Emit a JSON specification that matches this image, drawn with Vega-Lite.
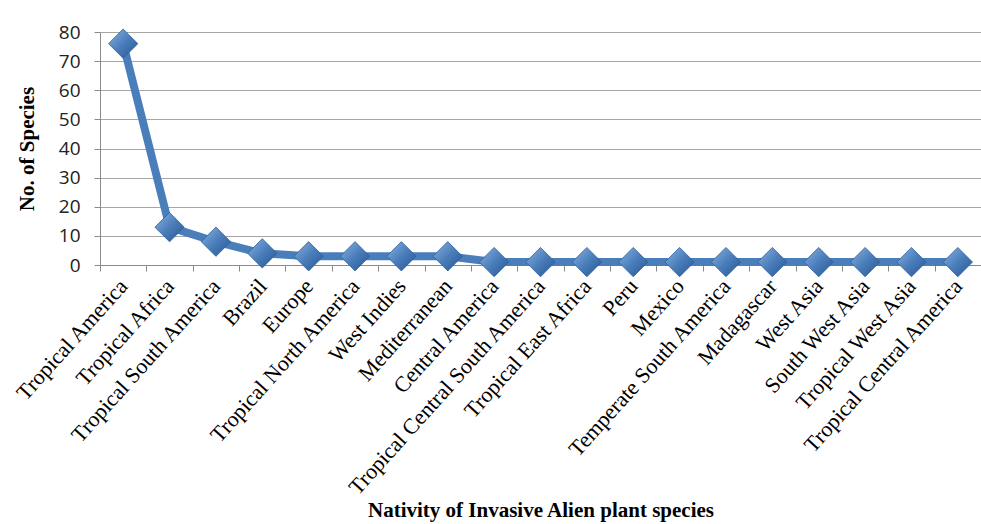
{
  "$schema": "https://vega.github.io/schema/vega-lite/v6.json",
  "width": 881,
  "height": 233,
  "autosize": {"type": "none"},
  "padding": {"left": 100, "top": 32, "right": 0, "bottom": 259},
  "background": "white",
  "config": {"view": {"stroke": null}},
  "data": {
    "values": [
      {"origin": "Tropical America", "species": 76},
      {"origin": "Tropical Africa", "species": 13},
      {"origin": "Tropical South America", "species": 8},
      {"origin": "Brazil", "species": 4},
      {"origin": "Europe", "species": 3},
      {"origin": "Tropical North America", "species": 3},
      {"origin": "West Indies", "species": 3},
      {"origin": "Mediterranean", "species": 3},
      {"origin": "Central America", "species": 1},
      {"origin": "Tropical Central South America", "species": 1},
      {"origin": "Tropical East Africa", "species": 1},
      {"origin": "Peru", "species": 1},
      {"origin": "Mexico", "species": 1},
      {"origin": "Temperate South America", "species": 1},
      {"origin": "Madagascar", "species": 1},
      {"origin": "West Asia", "species": 1},
      {"origin": "South West Asia", "species": 1},
      {"origin": "Tropical West Asia", "species": 1},
      {"origin": "Tropical Central America", "species": 1}
    ]
  },
  "encoding": {
    "x": {
      "field": "origin",
      "type": "nominal",
      "sort": null,
      "scale": {"type": "band", "paddingInner": 0, "paddingOuter": 0},
      "axis": {
        "title": "Nativity of Invasive Alien plant species",
        "titleFont": "Liberation Serif",
        "titleFontSize": 21,
        "titleFontWeight": "bold",
        "titleColor": "black",
        "titlePadding": 34,
        "labelAngle": -48,
        "labelAlign": "right",
        "labelBaseline": "middle",
        "labelFont": "Liberation Serif",
        "labelFontSize": 22,
        "labelColor": "black",
        "labelPadding": 11,
        "labelOverlap": false,
        "labelLimit": 400,
        "tickBand": "extent",
        "tickSize": 6,
        "tickColor": "#8a8a8a",
        "domainColor": "#8a8a8a",
        "grid": false
      }
    },
    "y": {
      "field": "species",
      "type": "quantitative",
      "scale": {"domain": [0, 80]},
      "axis": {
        "title": "No. of Species",
        "titleFont": "Liberation Serif",
        "titleFontSize": 21,
        "titleFontWeight": "bold",
        "titleColor": "black",
        "titlePadding": 21,
        "values": [0, 10, 20, 30, 40, 50, 60, 70, 80],
        "labelFont": "Open Sans",
        "labelFontSize": 19,
        "labelColor": "#222222",
        "labelPadding": 14,
        "tickSize": 6,
        "tickColor": "#8a8a8a",
        "domainColor": "#8a8a8a",
        "gridColor": "#a6a6a6",
        "gridWidth": 1.2
      }
    }
  },
  "layer": [
    {
      "mark": {"type": "line", "color": "#4A7EBB", "strokeWidth": 8, "strokeJoin": "round"}
    },
    {
      "mark": {
        "type": "point",
        "shape": "diamond",
        "size": 860,
        "filled": true,
        "opacity": 1,
        "stroke": "#2f5f98",
        "strokeWidth": 0.8,
        "fill": {
          "gradient": "linear",
          "x1": 0, "y1": 0, "x2": 1, "y2": 1,
          "stops": [
            {"offset": 0, "color": "#8db3e2"},
            {"offset": 0.5, "color": "#4a7ebb"},
            {"offset": 1, "color": "#24548f"}
          ]
        }
      }
    }
  ]
}
